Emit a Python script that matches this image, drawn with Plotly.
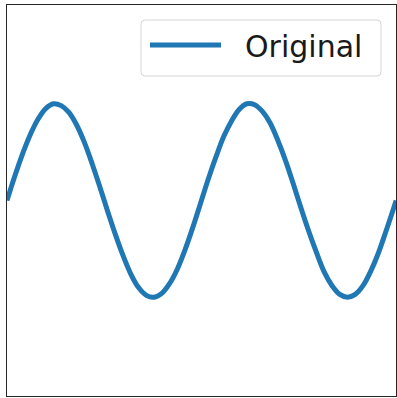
import plotly.graph_objects as go

# sine curve, two full periods across the axes
series_name = "Original"
x_vals = [0.0, 0.25, 0.5, 0.75, 1.0, 1.25, 1.5, 1.75, 2.0, 2.25, 2.5, 2.75,
          3.0, 3.25, 3.5, 3.75, 4.0, 4.25, 4.5, 4.75, 5.0, 5.25, 5.5, 5.75,
          6.0, 6.25, 6.5, 6.75, 7.0, 7.25, 7.5, 7.75, 8.0, 8.25, 8.5, 8.75,
          9.0, 9.25, 9.5, 9.75, 10.0, 10.25, 10.5, 10.75, 11.0, 11.25, 11.5,
          11.75, 12.0, 12.25, 12.5, 12.57]
y_vals = [0.0, 0.25, 0.48, 0.68, 0.84, 0.95, 1.0, 0.98, 0.91, 0.78, 0.6, 0.38,
          0.14, -0.11, -0.35, -0.57, -0.76, -0.9, -0.98, -1.0, -0.96, -0.86,
          -0.71, -0.51, -0.28, -0.03, 0.22, 0.45, 0.66, 0.82, 0.94, 1.0, 0.99,
          0.92, 0.8, 0.62, 0.41, 0.17, -0.08, -0.32, -0.54, -0.74, -0.88,
          -0.97, -1.0, -0.97, -0.88, -0.73, -0.54, -0.31, -0.07, 0.0]

blue = "#1f77b4"
W, H = 397, 398
ml, mr, mt, mb = 7, 1, 5, 2
pw, ph = W - ml - mr, H - mt - mb


def px_x(x):
    return (x - ml) / pw


def px_y(y):
    return (H - mb - y) / ph


fig = go.Figure()
fig.add_trace(go.Scatter(x=x_vals, y=y_vals, mode="lines", name=series_name,
                         line=dict(color=blue, width=5, shape="spline"),
                         showlegend=False))

# hand-drawn legend box in matplotlib style
x0, x1, y0, y1 = px_x(141), px_x(381), px_y(76), px_y(20)
rx, ry = 4 / pw, 4 / ph
path = (f"M{x0+rx},{y0} L{x1-rx},{y0} Q{x1},{y0} {x1},{y0+ry} "
        f"L{x1},{y1-ry} Q{x1},{y1} {x1-rx},{y1} L{x0+rx},{y1} "
        f"Q{x0},{y1} {x0},{y1-ry} L{x0},{y0+ry} Q{x0},{y0} {x0+rx},{y0} Z")
fig.add_shape(type="path", path=path, xref="paper", yref="paper",
              fillcolor="rgba(255,255,255,0.8)", line=dict(color="#d6d6d6", width=1))
fig.add_shape(type="line", xref="paper", yref="paper",
              x0=px_x(150), x1=px_x(221), y0=px_y(45), y1=px_y(45),
              line=dict(color=blue, width=5))
fig.add_annotation(text=series_name, xref="paper", yref="paper",
                   x=px_x(243), y=px_y(47), xanchor="left", yanchor="middle",
                   showarrow=False,
                   font=dict(family="DejaVu Sans", size=30, color="#1a1a1a"))

axis = dict(showticklabels=False, ticks="", showgrid=False, zeroline=False,
            showline=True, mirror=True, linecolor="#262626", linewidth=1)
fig.update_xaxes(range=[0, 12.566], **axis)
fig.update_yaxes(range=[-2.02, 2.02], **axis)
fig.update_layout(width=W, height=H, margin=dict(l=ml, r=mr, t=mt, b=mb),
                  plot_bgcolor="white", paper_bgcolor="white")
# drop the browser's default body margin so the figure sits at the corner
fig.write_html("out.html", config={"displayModeBar": False},
               post_script="document.body.style.margin='0';"
                           "document.body.style.overflow='hidden';")
